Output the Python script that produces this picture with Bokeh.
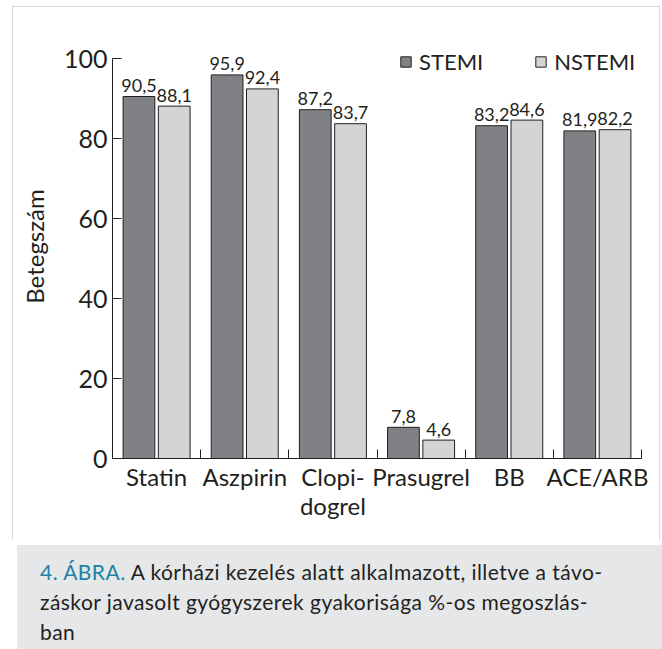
from bokeh.plotting import figure
from bokeh.models import Range1d, FixedTicker, Legend, LegendItem, ColumnDataSource, Div, Spacer
from bokeh.layouts import column, row
from bokeh.embed import file_html
from bokeh.resources import INLINE
from bokeh.core.properties import value

# ---- data ----
categories = ["Statin", "Aszpirin", "Clopi-\ndogrel", "Prasugrel", "BB", "ACE/ARB"]
stemi = [90.5, 95.9, 87.2, 7.8, 83.2, 81.9]
nstemi = [88.1, 92.4, 83.7, 4.6, 84.6, 82.2]
series_names = ["STEMI", "NSTEMI"]
y_ticks = [0, 20, 40, 60, 80, 100]
y_label = "Betegszám"
caption_lead = "4. ÁBRA."
caption_lines = [
    "A kórházi kezelés alatt alkalmazott, illetve a távo-",
    "záskor javasolt gyógyszerek gyakorisága %-os megoszlás-",
    "ban",
]

# ---- style ----
W = 648
H1 = 534
H2 = 109
FONT = "Lato"
DARK = "#808184"
LIGHT = "#d3d4d6"
INK = "#231f20"
TEAL = "#1b82a6"
CAPBG = "#e6e7e8"
EDGE = "#d9d9d9"
Y_TOP = 106  # frame extends above the 100 tick so the legend is not clipped


def fmt(v):
    return f"{v:.1f}".replace(".", ",")


n = len(categories)
centers = [i + 0.5 for i in range(n)]
bounds = [i + 1 for i in range(n)]

src_st = ColumnDataSource(dict(x=[c - 0.2 for c in centers], top=stemi,
                               label=[fmt(v) for v in stemi]))
src_ns = ColumnDataSource(dict(x=[c + 0.2 for c in centers], top=nstemi,
                               label=[fmt(v) for v in nstemi]))

p = figure(width=W, height=H1, x_range=Range1d(0, n), y_range=Range1d(0, Y_TOP),
           output_backend="svg", toolbar_location=None,
           min_border_left=99, min_border_right=20, min_border_top=27,
           min_border_bottom=83, outline_line_color=None,
           background_fill_color="white", border_fill_color="white")
p.styles = {"border-left": f"1px solid {EDGE}", "border-top": f"1px solid {EDGE}",
            "border-right": f"1px solid {EDGE}"}

r1 = p.vbar(x="x", top="top", bottom=0, width=0.36, source=src_st,
            fill_color=DARK, line_color=INK, line_width=1)
r2 = p.vbar(x="x", top="top", bottom=0, width=0.36, source=src_ns,
            fill_color=LIGHT, line_color=INK, line_width=1)

for s in (src_st, src_ns):
    p.text(x="x", y="top", text="label", source=s, text_font=value(FONT),
           text_font_size="18px", text_align="center", text_baseline="alphabetic",
           y_offset=-11, text_color=INK)

p.xgrid.visible = False
p.ygrid.visible = False

xa = p.xaxis[0]
xa.ticker = FixedTicker(ticks=centers, minor_ticks=bounds)
xa.major_label_overrides = {c: lab for c, lab in zip(centers, categories)}
xa.major_tick_in = 0
xa.major_tick_out = 0
xa.minor_tick_in = 9
xa.minor_tick_out = 0
xa.axis_line_color = INK
xa.minor_tick_line_color = INK
xa.major_label_standoff = 3
xa.major_label_text_font = FONT
xa.major_label_text_font_size = "24px"
xa.major_label_text_line_height = 1.0
xa.major_label_text_color = INK

ya = p.yaxis[0]
ya.ticker = FixedTicker(ticks=y_ticks, minor_ticks=[])
ya.bounds = (0, 100)
ya.major_tick_in = 9
ya.major_tick_out = 0
ya.minor_tick_in = 0
ya.minor_tick_out = 0
ya.axis_line_color = INK
ya.major_tick_line_color = INK
ya.major_label_standoff = 5
ya.major_label_text_font = FONT
ya.major_label_text_font_size = "25px"
ya.major_label_text_color = INK
ya.axis_label = y_label
ya.axis_label_text_font = FONT
ya.axis_label_text_font_size = "24px"
ya.axis_label_text_font_style = "normal"
ya.axis_label_text_color = INK
ya.axis_label_standoff = 12

legend = Legend(items=[LegendItem(label=series_names[0], renderers=[r1]),
                       LegendItem(label=series_names[1], renderers=[r2])],
                orientation="horizontal", location=(287, 383),
                glyph_width=13, glyph_height=13, label_standoff=7, spacing=51,
                padding=0, margin=0, border_line_color=None,
                background_fill_alpha=0, label_text_font=FONT,
                label_text_font_size="22px", label_text_color=INK)
p.add_layout(legend)

# ---- caption ----
cap_html = (f'<span style="color:{TEAL}">{caption_lead}</span> {caption_lines[0]}<br>'
            f'{caption_lines[1]}<br>{caption_lines[2]}')
cap = Div(text=cap_html, width=W, height=H2,
          styles={"background-color": CAPBG, "font-family": "Lato",
                  "font-size": "21px", "line-height": "30px", "color": INK,
                  "letter-spacing": "0.45px", "padding": "12px 0 0 23px",
                  "box-sizing": "border-box", "white-space": "nowrap"})

layout = row(Spacer(width=12), column(Spacer(height=6), p, cap, spacing=0), spacing=0)
open("out.html", "w").write(file_html(layout, INLINE))
